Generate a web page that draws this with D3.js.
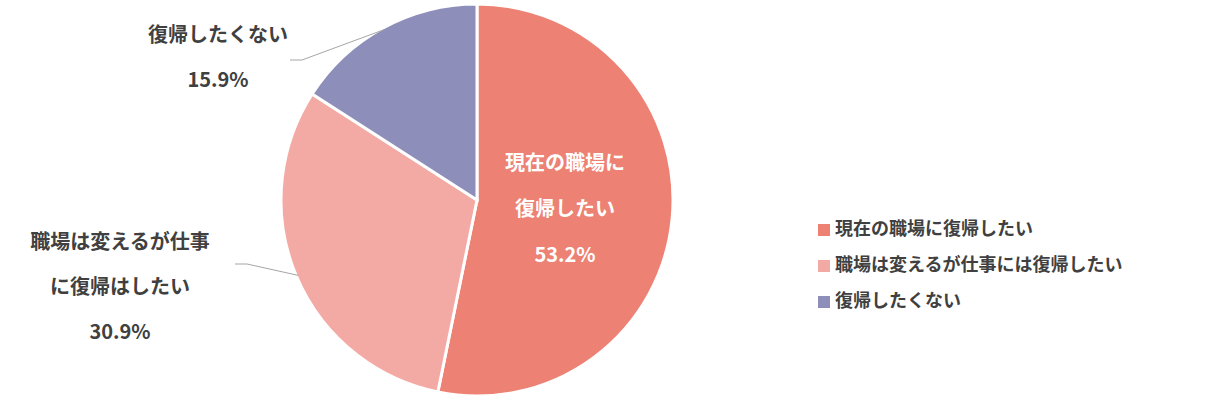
<!DOCTYPE html>
<html><head><meta charset="utf-8">
<script src="https://cdn.jsdelivr.net/npm/d3@7"></script>
<style>body{margin:0;background:#fff}text{font-family:"Noto Sans CJK JP",sans-serif}</style>
</head><body>
<script>
// data
var categories = ["現在の職場に復帰したい", "職場は変えるが仕事には復帰したい", "復帰したくない"];
var values = [53.2, 30.9, 15.9];
var colors = ["#EC8174", "#F4AAA4", "#8E8EBB"];

var svg = d3.select("body").append("svg")
    .attr("width", 1220).attr("height", 407);

var cx = 477, cy = 200, r = 196;
var pie = d3.pie().sort(null).value(function(d){ return d; });
var arcs = pie(values);
var arc = d3.arc().innerRadius(0).outerRadius(r);

var g = svg.append("g").attr("transform", "translate(" + cx + "," + cy + ")");
g.selectAll("path").data(arcs).enter().append("path")
    .attr("d", arc)
    .style("fill", function(d, i){ return colors[i]; })
    .style("stroke", "#fff").style("stroke-width", 3);

// inside label for first slice
var inside = ["現在の職場に", "復帰したい", values[0].toFixed(1) + "%"];
g.selectAll(".inlab").data(inside).enter().append("text")
    .attr("x", 88).attr("y", function(d, i){ return -35 + i * 46; })
    .attr("text-anchor", "middle").attr("dominant-baseline", "middle")
    .style("fill", "#fff").style("font-size", "20px").style("font-weight", "bold")
    .text(function(d){ return d; });

// outside labels with leader lines
var outside = [
  {lines: ["職場は変えるが仕事", "に復帰はしたい", values[1].toFixed(1) + "%"], x: 120, y: 244, idx: 1, lx: 235, ly: 264},
  {lines: ["復帰したくない", values[2].toFixed(1) + "%"], x: 218, y: 37, idx: 2, lx: 290, ly: 60}
];
outside.forEach(function(o){
  var a = arcs[o.idx];
  var mid = (a.startAngle + a.endAngle) / 2;
  var px = Math.sin(mid) * r * 0.99, py = -Math.cos(mid) * r * 0.99;
  g.append("polyline")
    .attr("points", [[o.lx - cx, o.ly - cy], [o.lx - cx + 12, o.ly - cy], [px, py]].join(" "))
    .style("fill", "none").style("stroke", "#a6a6a6").style("stroke-width", 1);
  svg.selectAll(null).data(o.lines).enter().append("text")
    .attr("x", o.x).attr("y", function(d, i){ return o.y + i * 45; })
    .attr("text-anchor", "middle").attr("dominant-baseline", "middle")
    .style("fill", "#404040").style("font-size", "20px").style("font-weight", "bold")
    .text(function(d){ return d; });
});

// legend
var legend = svg.selectAll(".leg").data(categories).enter().append("g")
    .attr("transform", function(d, i){ return "translate(818," + (230 + i * 36) + ")"; });
legend.append("rect").attr("x", 0).attr("y", -6).attr("width", 12).attr("height", 12)
    .style("fill", function(d, i){ return colors[i]; });
legend.append("text").attr("x", 17).attr("y", 0).attr("dominant-baseline", "middle")
    .style("fill", "#404040").style("font-size", "18px").style("font-weight", "bold")
    .text(function(d){ return d; });
</script>
</body></html>
